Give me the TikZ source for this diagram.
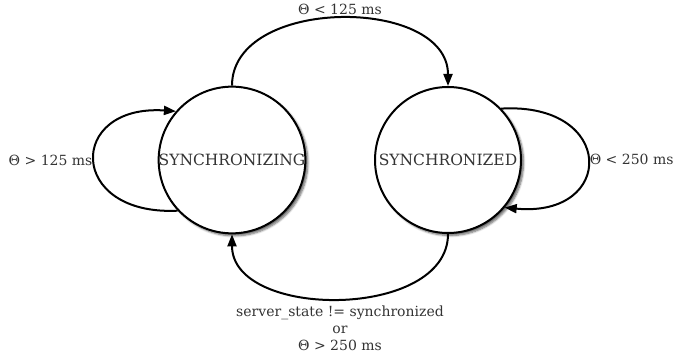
\documentclass[tikz,border=0pt]{standalone}
\usepackage{fontspec}
\setmainfont{DejaVu Serif}
\usetikzlibrary{arrows.meta,shadows.blur}

\tikzset{
  state/.style={circle, draw=black, line width=2pt, fill=white, minimum size=146pt, inner sep=0pt,
    text=black!80, font=\fontsize{15.5}{18}\selectfont,
    blur shadow={shadow xshift=2.5pt, shadow yshift=-2.5pt, shadow blur steps=6, shadow opacity=60}},
  trans/.style={line width=2pt, -{Triangle[length=12pt,width=9pt]}},
  cond/.style={text=black!80, font=\fontsize{14}{17}\selectfont}
}

\begin{document}
\begin{tikzpicture}[x=1pt, y=-1pt]
            \useasboundingbox (0,0) rectangle (695,358);
            \node [state] (syncing) at (232,160) {SYNCHRONIZING};
            \node [state] (synced) at (448,160) {SYNCHRONIZED};
            % syncing -> synced
            \draw [trans] (syncing.north) .. controls (232,-4) and (448,-4) .. (synced.north)
                node [cond, pos=.5, anchor=south, yshift=1pt, inner sep=2pt] (upcond) {Θ < 125 ms};
            % stay in syncing
            \draw [trans] (syncing.223) .. controls (67,216) and (67,104) .. (syncing.139)
                node [cond, pos=.5, anchor=east, inner sep=1pt] (leftcond) {Θ > 125 ms};
            % stay in synced
            \draw [trans] (synced.44) .. controls (616,102) and (616,218) .. (synced.-40)
                node [cond, pos=.5, anchor=west, inner sep=1pt] (rightcond) {Θ < 250 ms};
            % synced -> syncing
            \draw [trans] (synced.south) .. controls (448,320) and (232,320) .. (syncing.south)
                node [cond, pos=.5, anchor=north, align=center, yshift=-3pt] (downcond) {server\_state != synchronized\\or\\Θ > 250 ms};
        \end{tikzpicture}
\end{document}
